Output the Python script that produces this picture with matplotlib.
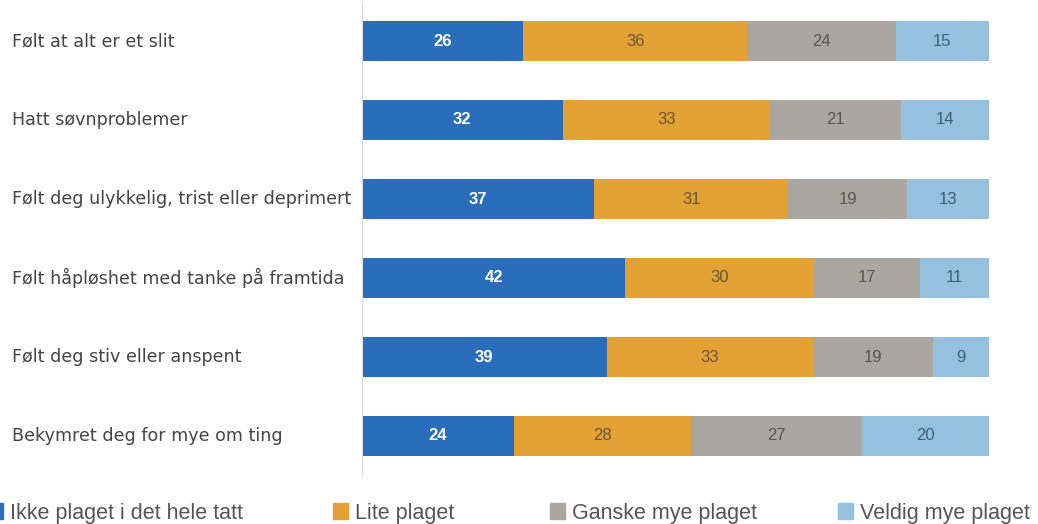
import numpy as np
import matplotlib
matplotlib.use("Agg")
import matplotlib.pyplot as plt
from matplotlib.patches import Patch

plt.rcParams['font.family'] = ['Liberation Sans', 'DejaVu Sans']

# Data
categories = [
    "Følt at alt er et slit",
    "Hatt søvnproblemer",
    "Følt deg ulykkelig, trist eller deprimert",
    "Følt håpløshet med tanke på framtida",
    "Følt deg stiv eller anspent",
    "Bekymret deg for mye om ting",
]
series_names = ["Ikke plaget i det hele tatt", "Lite plaget",
                "Ganske mye plaget", "Veldig mye plaget"]
ikke = [26, 32, 37, 42, 39, 24]
lite = [36, 33, 31, 30, 33, 28]
ganske = [24, 21, 19, 17, 19, 27]
veldig = [15, 14, 13, 11, 9, 20]

colors = ["#2a6ebb", "#e3a136", "#aca6a1", "#95c1de"]
text_colors = ["white", "#6b5535", "#555555", "#3f5d75"]

values = np.array([ikke, lite, ganske, veldig], dtype=float)
shares = values / values.sum(axis=0) * 100  # bars are drawn as 100 % stacked

fig = plt.figure(figsize=(10.38, 5.24), dpi=100)
ax = fig.add_axes([362 / 1038, 1 - 475.5 / 524, 627 / 1038, 474 / 524])

y = np.arange(len(categories))
left = np.zeros(len(categories))
for k in range(4):
    ax.barh(y, shares[k], left=left, height=0.5, color=colors[k], linewidth=0)
    for i in range(len(categories)):
        ax.text(left[i] + shares[k][i] / 2, y[i], f"{int(values[k][i])}",
                ha='center', va='center', fontsize=12, color=text_colors[k],
                fontweight='bold' if k == 0 else 'normal')
    left += shares[k]

ax.set_xlim(0, 100)
ax.set_ylim(len(categories) - 0.5, -0.5)
for s in ["top", "right", "bottom"]:
    ax.spines[s].set_visible(False)
ax.spines["left"].set_color("#d9d9d9")
ax.set_xticks([])
ax.set_yticks([])

for i, cat in enumerate(categories):
    ax.text((12 - 362) / 627, y[i], cat, transform=ax.get_yaxis_transform(),
            ha='left', va='center', fontsize=12.6, color="#444444",
            family='DejaVu Sans')

# Legend items, placed individually
legend_x = [-12, 333, 550, 838]
for k in range(4):
    fig.legend(handles=[Patch(color=colors[k], label=series_names[k])],
               loc='center left', bbox_to_anchor=(legend_x[k] / 1038, 1 - 513 / 524),
               frameon=False, fontsize=15.5, handlelength=0.68, handleheight=0.7,
               handletextpad=0.35, borderpad=0, borderaxespad=0,
               labelcolor="#555555")

fig.savefig("out.png", dpi=100)
